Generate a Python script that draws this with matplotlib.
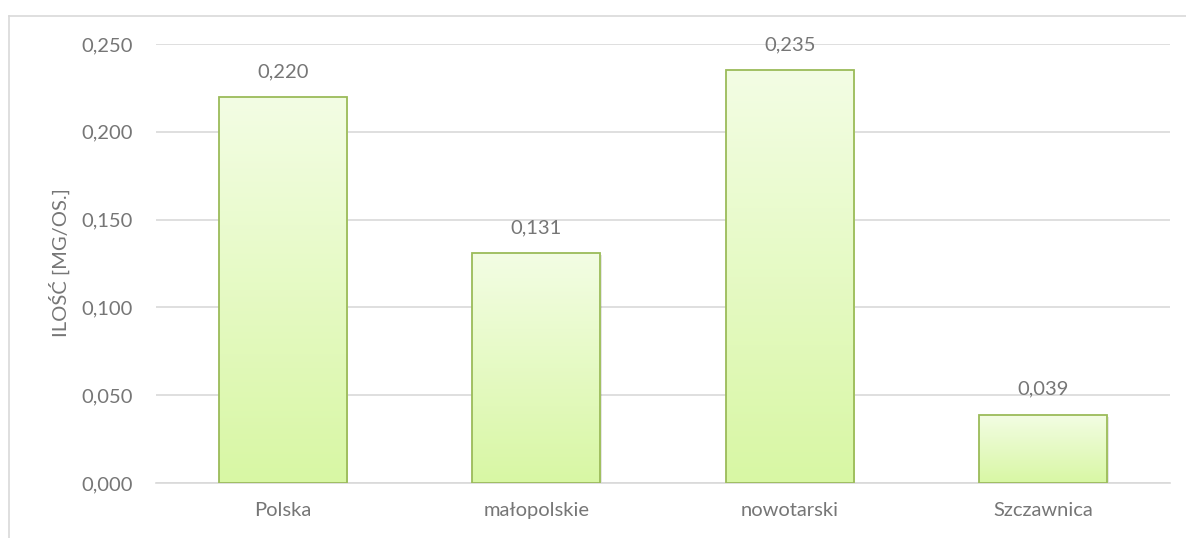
import matplotlib.pyplot as plt
import numpy as np
from matplotlib.colors import LinearSegmentedColormap
from matplotlib.lines import Line2D

categories = ["Polska", "małopolskie", "nowotarski", "Szczawnica"]
values = [0.220, 0.131, 0.235, 0.039]
yticks = [0.0, 0.05, 0.10, 0.15, 0.20, 0.25]

plt.rcParams['font.family'] = ['Lato', 'DejaVu Sans']
txt = '#767676'
fs = 14.5

W, H = 1186, 538
fig = plt.figure(figsize=(W / 100, H / 100), dpi=100)
ax = fig.add_axes([156 / W, 1 - 483 / H, (1170 - 156) / W, (483 - 44) / H])

# outer chart border (partly cut off in the reference)
fig.add_artist(Line2D([8.5 / W, 1], [1 - 16 / H, 1 - 16 / H], transform=fig.transFigure, color='#d9d9d9', lw=1.2))
fig.add_artist(Line2D([8.5 / W, 8.5 / W], [0, 1 - 16 / H], transform=fig.transFigure, color='#d9d9d9', lw=1.2))

x = np.arange(len(categories))
bw = 0.505
cmap = LinearSegmentedColormap.from_list('g', ['#d8f7a4', '#f3fde4'])
grad = np.linspace(0, 1, 256).reshape(-1, 1)

bars = ax.bar(x, values, width=bw, color='none', edgecolor='#9bbb59', lw=1.3, zorder=3)
for b in bars:
    x0, w, h = b.get_x(), b.get_width(), b.get_height()
    # soft shadow
    ax.bar(x0 + w / 2 + 0.006, h, width=w, bottom=-0.0012, color='#000000', alpha=0.1, zorder=1.5)
    im = ax.imshow(grad, cmap=cmap, aspect='auto', origin='lower',
                   extent=[x0, x0 + w, 0, h], zorder=2)
    im.set_clip_path(b)
    ax.text(x0 + w / 2, h + 0.0095, f"{h:.3f}".replace('.', ','), ha='center', va='bottom',
            fontsize=fs, color=txt)

ax.set_xlim(-0.5, len(categories) - 0.5)
ax.set_ylim(0, 0.25)
ax.set_yticks(yticks)
ax.set_yticklabels([f"{v:.3f}".replace('.', ',') for v in yticks], fontsize=fs, color=txt)
ax.set_xticks(x)
ax.set_xticklabels(categories, fontsize=fs, color=txt)
ax.tick_params(axis='x', length=0, pad=14)
ax.tick_params(axis='y', length=0, pad=16.5)
ax.grid(axis='y', color='#d9d9d9', lw=1.2, zorder=0)
ax.set_axisbelow(True)
for s in ['top', 'right', 'left']:
    ax.spines[s].set_visible(False)
ax.spines['bottom'].set_color('#d9d9d9')
ax.spines['bottom'].set_linewidth(1.2)
fig.text(59 / W, 1 - 263 / H, "ILOŚĆ [MG/OS.]", rotation=90, ha='center', va='center',
         fontsize=fs, color=txt)

fig.savefig('out.png', dpi=100)
